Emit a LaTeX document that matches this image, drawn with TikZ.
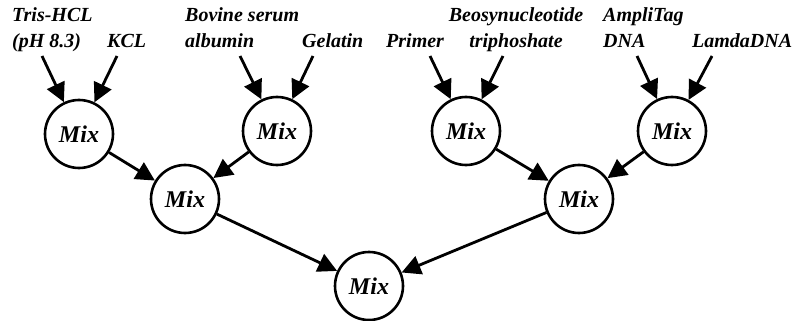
\documentclass[tikz,border=0pt]{standalone}
\usepackage{fontspec}
\setmainfont{Liberation Serif}
\usetikzlibrary{arrows.meta}
\begin{document}
\begin{tikzpicture}[x=1pt,y=-1pt,
  mixnode/.style={circle,draw,line width=2.6pt,minimum size=68pt,inner sep=0pt,
    font=\fontsize{24}{28}\selectfont\bfseries\itshape},
  lbl/.style={inner sep=0pt,font=\fontsize{20}{26}\selectfont\bfseries\itshape},
  flow/.style={line width=2.8pt,-{Triangle[length=19pt,width=19pt]}}]
\useasboundingbox (0,0) rectangle (804,321);

% reagents (base anchor of a two-line name sits on its last line)
\node[lbl,anchor=base west,align=left] (tris) at (12,48) {Tris-HCL\\(pH 8.3)};
\node[lbl,anchor=base west] (kcl) at (107,48) {KCL};
\node[lbl,anchor=base west,align=left] (bsa) at (185,48) {Bovine serum\\albumin};
\node[lbl,anchor=base west] (gel) at (302,48) {Gelatin};
\node[lbl,anchor=base west] (primer) at (386,48) {Primer};
\node[lbl,anchor=base,align=center] (dntp) at (516,48) {Beosynucleotide\\triphoshate};
\node[lbl,anchor=base west,align=left] (taq) at (603,48) {AmpliTag\\DNA};
\node[lbl,anchor=base west] (lamda) at (692,48) {LamdaDNA};

% arrow tails under the reagent names
\coordinate (s1) at (42,56);
\coordinate (s2) at (117,56);
\coordinate (s3) at (240,56);
\coordinate (s4) at (313,56);
\coordinate (s5) at (430,56);
\coordinate (s6) at (503,56);
\coordinate (s7) at (637,56);
\coordinate (s8) at (712,56);

% mixing steps
\node[mixnode] (m1) at (79,134) {Mix};
\node[mixnode] (m2) at (277,131) {Mix};
\node[mixnode] (m3) at (466,131) {Mix};
\node[mixnode] (m4) at (672,131) {Mix};
\node[mixnode] (m5) at (185,199) {Mix};
\node[mixnode] (m6) at (579,199) {Mix};
\node[mixnode] (m7) at (369,286) {Mix};

\draw[flow] (s1) -- (m1);
\draw[flow] (s2) -- (m1);
\draw[flow] (s3) -- (m2);
\draw[flow] (s4) -- (m2);
\draw[flow] (s5) -- (m3);
\draw[flow] (s6) -- (m3);
\draw[flow] (s7) -- (m4);
\draw[flow] (s8) -- (m4);
\draw[flow] (m1) -- (m5);
\draw[flow] (m2) -- (m5);
\draw[flow] (m3) -- (m6);
\draw[flow] (m4) -- (m6);
\draw[flow] (m5) -- (m7);
\draw[flow] (m6) -- (m7);
\end{tikzpicture}
\end{document}
